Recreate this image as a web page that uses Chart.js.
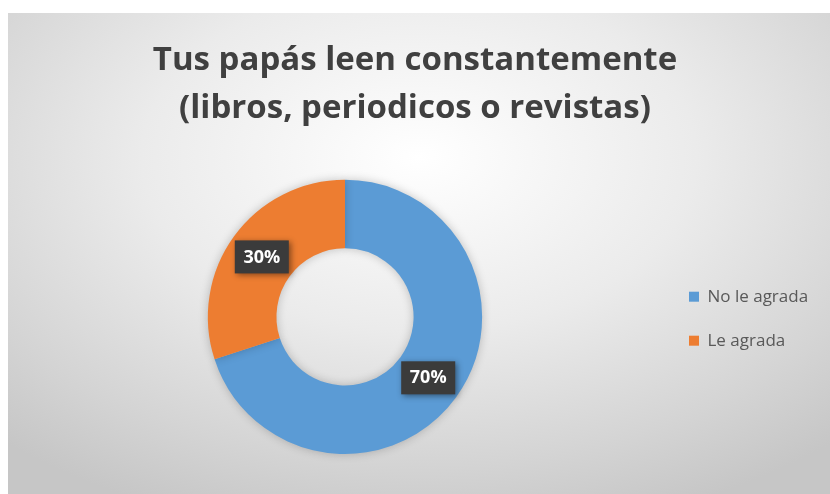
<!DOCTYPE html>
<html>
<head>
<meta charset="utf-8">
<script src="https://cdn.jsdelivr.net/npm/chart.js@4.4.1/dist/chart.umd.min.js"></script>
<style>
  html, body { margin: 0; padding: 0; background: #fff; }
  #wrap {
    position: absolute; left: 8px; top: 13px; width: 822px; height: 481px;
    background: radial-gradient(ellipse 75% 80% at 50% 30%, #ffffff 0%, #ebebeb 45%, #d4d4d4 80%, #c6c6c6 100%);
  }
</style>
</head>
<body>
<div id="wrap"><canvas id="pie" width="822" height="481"></canvas></div>
<script>
  var titleLines = ['Tus papás leen constantemente', '(libros, periodicos o revistas)'];
  var categories = ['No le agrada', 'Le agrada'];
  var values     = [70, 30];
  var colors     = ['#5b9bd5', '#ed7d31'];

  // dark boxes with the percent on each slice
  var boxLabels = {
    id: 'boxLabels',
    afterDatasetsDraw: function(c) {
      var ctx = c.ctx, meta = c.getDatasetMeta(0);
      var total = values.reduce(function(a, b) { return a + b; }, 0);
      ctx.save();
      ctx.font = 'bold 18px "Open Sans"';
      ctx.textAlign = 'center';
      ctx.textBaseline = 'middle';
      meta.data.forEach(function(arc, i) {
        var p = arc.tooltipPosition();
        var txt = Math.round(values[i] / total * 100) + '%';
        ctx.shadowColor = 'rgba(0,0,0,0.45)';
        ctx.shadowBlur = 6; ctx.shadowOffsetX = 2; ctx.shadowOffsetY = 2;
        ctx.fillStyle = '#3b3b3b';
        ctx.fillRect(p.x - 27, p.y - 16, 54, 33);
        ctx.shadowColor = 'transparent';
        ctx.fillStyle = '#ffffff';
        ctx.fillText(txt, p.x, p.y + 1);
      });
      ctx.restore();
    }
  };

  var softShadow = {
    id: 'softShadow',
    beforeDatasetsDraw: function(c) {
      c.ctx.save();
      c.ctx.shadowColor = 'rgba(0,0,0,0.22)';
      c.ctx.shadowBlur = 10;
    },
    afterDatasetsDraw: function(c) { c.ctx.restore(); }
  };

  var baseLabels = Chart.overrides.doughnut.plugins.legend.labels.generateLabels;

  new Chart(document.getElementById('pie'), {
    type: 'doughnut',
    data: {
      labels: categories,
      datasets: [{ data: values, backgroundColor: colors, borderWidth: 0 }]
    },
    plugins: [softShadow, boxLabels],
    options: {
      responsive: false,
      animation: false,
      cutout: '50%',
      layout: { padding: { left: 11, right: 19, top: 0, bottom: 40 } },
      plugins: {
        title: {
          display: true,
          text: titleLines,
          color: '#404040',
          font: { family: 'Open Sans', size: 33, weight: 'bold', lineHeight: 1.47 },
          padding: { top: 23, bottom: 46.7 }
        },
        legend: {
          position: 'right',
          maxWidth: 140,
          // empty title only to push the items down to the middle
          title: { display: true, text: '', font: { size: 12 }, padding: { top: 165, bottom: 0 } },
          labels: {
            color: '#595959',
            font: { family: 'Open Sans', size: 17, lineHeight: 26 / 17 },
            boxWidth: 10, boxHeight: 10, padding: 18,
            // one-line arrays so the row height follows the font lineHeight
            generateLabels: function(c) {
              return baseLabels(c).map(function(it) { it.text = [it.text]; return it; });
            }
          }
        },
        tooltip: { enabled: false }
      }
    }
  });
</script>
</body>
</html>
